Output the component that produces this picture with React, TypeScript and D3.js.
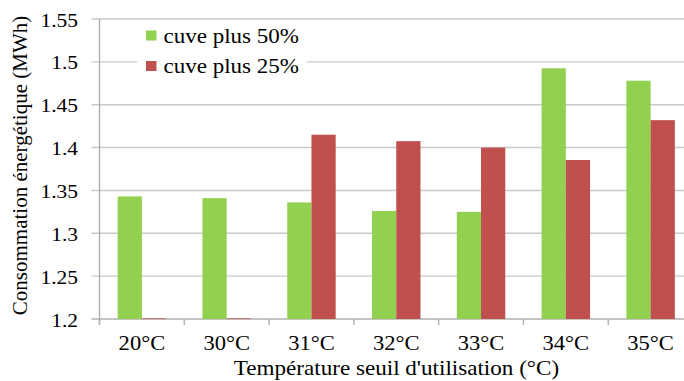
import React from "react";
import * as d3 from "d3";

const categories = ["20°C", "30°C", "31°C", "32°C", "33°C", "34°C", "35°C"];
const seriesNames = ["cuve plus 50%", "cuve plus 25%"];
const cuve50 = [1.343, 1.341, 1.336, 1.326, 1.325, 1.4925, 1.478];
const cuve25 = [0, 0, 1.415, 1.4075, 1.4, 1.3855, 1.432];
const yTicks = [1.2, 1.25, 1.3, 1.35, 1.4, 1.45, 1.5, 1.55];
const colors = ["#92D050", "#C0504D"];
const yTitle = "Consommation énergétique (MWh)";
const xTitle = "Température seuil d'utilisation (°C)";

const W = 684;
const H = 381;
const left = 99.5;
const right = 693;
const top = 19;
const bottom = 319;
const FONT = "'Liberation Serif', 'Times New Roman', serif";

function SText(props: {
  x: number;
  y: number;
  sx?: number;
  size: number;
  anchor?: string;
  children: React.ReactNode;
}) {
  const { x, y, sx = 1, size, anchor = "start", children } = props;
  return (
    <g transform={`translate(${x},${y}) scale(${sx},1)`}>
      <text
        x={0}
        y={0}
        fontFamily={FONT}
        fontSize={size}
        textAnchor={anchor}
        fill="#000"
      >
        {children}
      </text>
    </g>
  );
}

export default function App() {
  const x = d3.scaleBand<string>().domain(categories).range([left, right]).padding(0);
  const inner = d3
    .scaleBand<number>()
    .domain([0, 1])
    .range([0, x.bandwidth()])
    .paddingInner(0)
    .paddingOuter(0.75);
  const y = d3.scaleLinear().domain([1.2, 1.55]).range([bottom, top]);
  const series = [cuve50, cuve25];
  const gridColor = "#C9C9C9";
  const axisColor = "#B0B0B0";

  return (
    <svg
      width={W}
      height={H}
      style={{ position: "absolute", left: 0, top: 0, background: "#fff" }}
    >
      <rect x={0} y={0} width={W} height={H} fill="#fff" />
      {yTicks.map((t) => (
        <line
          key={"g" + t}
          x1={left - 8}
          x2={right}
          y1={y(t)}
          y2={y(t)}
          stroke={t === 1.2 ? axisColor : gridColor}
          strokeWidth={1.4}
        />
      ))}
      {categories.map((c, i) => (
        <g key={c}>
          {series.map((s, j) => {
            const v = s[i];
            const bx = (x(c) as number) + (inner(j) as number);
            const bw = inner.bandwidth();
            if (v <= 1.2) {
              return (
                <rect
                  key={j}
                  x={bx}
                  y={y(1.2) - 1}
                  width={bw}
                  height={1.2}
                  fill={colors[j]}
                  opacity={0.6}
                />
              );
            }
            return (
              <rect
                key={j}
                x={bx}
                y={y(v)}
                width={bw}
                height={y(1.2) - y(v)}
                fill={colors[j]}
              />
            );
          })}
        </g>
      ))}
      <line x1={left} x2={left} y1={top} y2={bottom + 6} stroke={axisColor} strokeWidth={1.4} />
      {categories.map((c) => (
        <line
          key={"t" + c}
          x1={x(c) as number}
          x2={x(c) as number}
          y1={bottom}
          y2={bottom + 6}
          stroke={axisColor}
          strokeWidth={1.4}
        />
      ))}
      {yTicks.map((t) => (
        <SText key={"l" + t} x={78} y={y(t) + 7.5} sx={1.13} size={19} anchor="end">
          {d3.format("")(t)}
        </SText>
      ))}
      {categories.map((c) => (
        <SText
          key={"xl" + c}
          x={(x(c) as number) + x.bandwidth() / 2}
          y={350}
          sx={1.1}
          size={20.5}
          anchor="middle"
        >
          {c}
        </SText>
      ))}
      <SText x={396.5} y={375} sx={1.1} size={21} anchor="middle">
        {xTitle}
      </SText>
      <g transform={`translate(27,${165.5}) rotate(-90)`}>
        <text x={0} y={0} fontFamily={FONT} fontSize={21} textAnchor="middle" fill="#000">
          {yTitle}
        </text>
      </g>
      <rect x={137} y={23} width={170} height={58} fill="#fff" />
      {seriesNames.map((n, j) => (
        <g key={n}>
          <rect x={146} y={30.5 + j * 30.5} width={10.5} height={10} fill={colors[j]} />
          <SText x={163.5} y={42.5 + j * 30.5} sx={1.15} size={20}>
            {n}
          </SText>
        </g>
      ))}
    </svg>
  );
}
